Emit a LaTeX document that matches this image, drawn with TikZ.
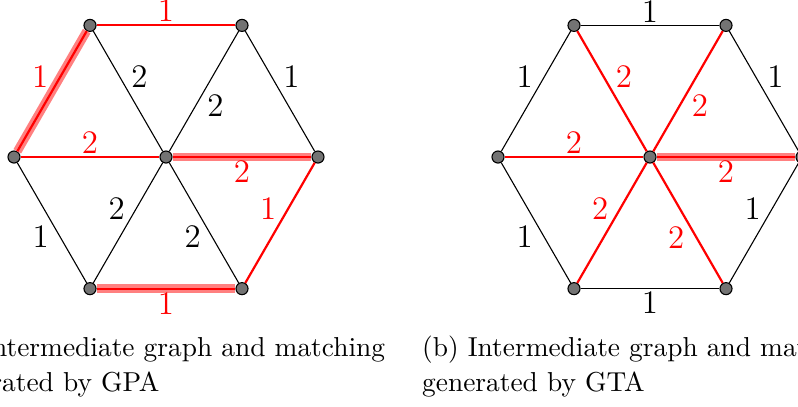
\documentclass[tikz,border=0pt]{standalone}
\usepackage{amsmath}
\begin{document}
\begin{tikzpicture}[
    x=1pt, y=1pt,
    vtx/.style={draw, circle, fill=black!55, inner sep=0pt, minimum size=4.4pt},
    plain/.style={black, line width=0.4pt},
    medge/.style={red, line width=0.8pt},
    hilite/.style={red!50, line width=3.2pt},
    lbl/.style={font=\large, inner sep=1pt},
    captxt/.style={align=left, anchor=base west, inner sep=0pt, font=\fontsize{10}{12.8}\selectfont},
  ]
  \def\R{55.48}
  \clip (-60.59,-90.89) rectangle (230.68,57.31);

  % Vertices (a): GPA
  \node[vtx] (a0) at (0,0) {};
  \foreach \i in {1,...,6}
    \node[vtx] (a\i) at ({60*(\i-1)}:\R) {};

  % Vertices (b): GTA
  \begin{scope}[xshift=176.66pt]
    \node[vtx] (b0) at (0,0) {};
    \foreach \i in {1,...,6}
      \node[vtx] (b\i) at ({60*(\i-1)}:\R) {};
  \end{scope}

  % Matching (a)
  \draw[hilite] (a3) -- (a4);
  \draw[hilite] (a0) -- (a1);
  \draw[hilite] (a5) -- (a6);

  % Edges (a)
  \draw[medge] (a3) -- node[lbl, above] {1} (a2);
  \draw[medge] (a3) -- node[lbl, above left] {1} (a4);
  \draw[plain] (a2) -- node[lbl, above right] {1} (a1);
  \draw[medge] (a4) -- node[lbl, above] {2} (a0);
  \draw[medge] (a0) -- node[lbl, below] {2} (a1);
  \draw[plain] (a3) -- node[lbl, above right] {2} (a0);
  \draw[plain] (a2) -- node[lbl, below right] {2} (a0);
  \draw[plain] (a0) -- node[lbl, above left] {2} (a5);
  \draw[plain] (a0) -- node[lbl, below left] {2} (a6);
  \draw[plain] (a4) -- node[lbl, below left] {1} (a5);
  \draw[medge] (a1) -- node[lbl, above left] {1} (a6);
  \draw[medge] (a5) -- node[lbl, below] {1} (a6);

  % Matching (b)
  \draw[hilite] (b0) -- (b1);

  % Edges (b)
  \draw[plain] (b3) -- node[lbl, above] {1} (b2);
  \draw[plain] (b3) -- node[lbl, above left] {1} (b4);
  \draw[plain] (b2) -- node[lbl, above right] {1} (b1);
  \draw[medge] (b4) -- node[lbl, above] {2} (b0);
  \draw[medge] (b0) -- node[lbl, below] {2} (b1);
  \draw[medge] (b3) -- node[lbl, above right] {2} (b0);
  \draw[medge] (b2) -- node[lbl, below right] {2} (b0);
  \draw[medge] (b0) -- node[lbl, above left] {2} (b5);
  \draw[medge] (b0) -- node[lbl, below left] {2} (b6);
  \draw[plain] (b4) -- node[lbl, below left] {1} (b5);
  \draw[plain] (b1) -- node[lbl, above left] {1} (b6);
  \draw[plain] (b5) -- node[lbl, below] {1} (b6);

  % Captions
  \node[captxt] (capa) at (-83.36,-85.7) {(a) Intermediate graph and matching\\generated by GPA};
  \node[captxt] (capb) at (93.3,-85.7) {(b) Intermediate graph and matching\\generated by GTA};
\end{tikzpicture}
\end{document}
